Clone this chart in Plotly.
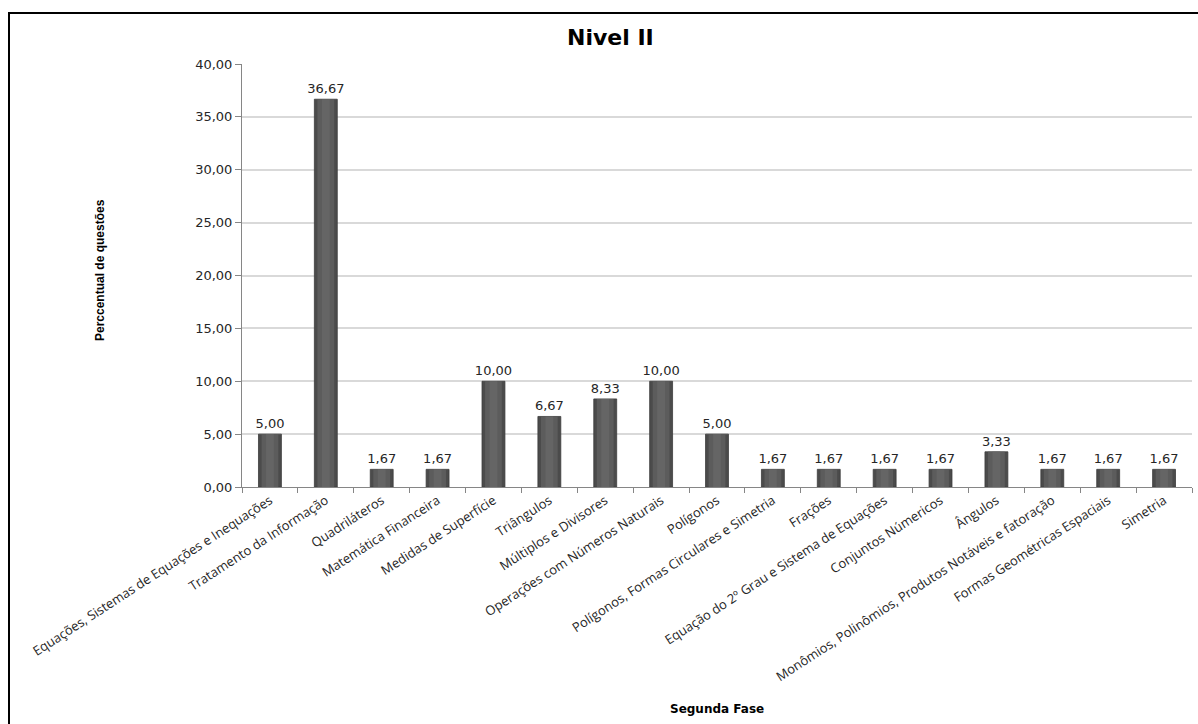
import plotly.graph_objects as go

categorias = [
    "Equações, Sistemas de Equações e Inequações",
    "Tratamento da Informação",
    "Quadriláteros",
    "Matemática Financeira",
    "Medidas de Superfície",
    "Triângulos",
    "Múltiplos e Divisores",
    "Operações com Números Naturais",
    "Polígonos",
    "Polígonos, Formas Circulares e Simetria",
    "Frações",
    "Equação do 2º Grau e Sistema de Equações",
    "Conjuntos Númericos",
    "Ângulos",
    "Monômios, Polinômios, Produtos Notáveis e fatoração",
    "Formas Geométricas Espaciais",
    "Simetria",
]
percentual = [5.00, 36.67, 1.67, 1.67, 10.00, 6.67, 8.33, 10.00, 5.00,
              1.67, 1.67, 1.67, 1.67, 3.33, 1.67, 1.67, 1.67]
y_ticks = [0, 5, 10, 15, 20, 25, 30, 35, 40]

W, H = 1198, 724
L, R, T, B = 242, 1192, 64, 487


def px(x):
    return (x - L) / (R - L)


def py(y):
    return (B - y) / (B - T)


fig = go.Figure()

# Body of each bar, with lighter inner bands for a rounded look
fig.add_trace(go.Bar(
    x=categorias, y=percentual, width=0.41,
    marker=dict(color="#4b4b4b", line=dict(color="#3c3c3c", width=0.8)),
    text=percentual, texttemplate="%{y:.2f}", textposition="outside",
    constraintext="none",
    textfont=dict(family="DejaVu Sans", size=13, color="#262626"),
    cliponaxis=False, hoverinfo="skip",
))
fig.add_trace(go.Bar(
    x=categorias, y=percentual, width=0.30,
    marker=dict(color="#5c5c5c", line=dict(width=0)),
    hoverinfo="skip",
))
fig.add_trace(go.Bar(
    x=categorias, y=percentual, width=0.14,
    marker=dict(color="#656565", line=dict(width=0)),
    hoverinfo="skip",
))

fig.update_layout(
    width=W, height=H,
    margin=dict(l=L, r=W - R, t=T, b=H - B),
    paper_bgcolor="white", plot_bgcolor="white",
    barmode="overlay", showlegend=False,
    separators=",.",
    font=dict(family="Open Sans", color="#262626"),
)

fig.update_yaxes(
    range=[0, 40], tickvals=y_ticks, tickformat=".2f",
    showgrid=True, gridcolor="#d9d9d9", gridwidth=1.5,
    showline=True, linecolor="#868686", linewidth=1,
    ticks="outside", ticklen=6, tickcolor="#868686",
    tickfont=dict(family="DejaVu Sans", size=13, color="#262626"),
    zeroline=False,
)
fig.update_xaxes(
    type="category", tickangle=-33,
    showline=True, linecolor="#868686", linewidth=1,
    ticks="outside", ticklen=5, tickcolor="#868686", tickson="boundaries",
    tickfont=dict(family="Open Sans", size=13, color="#262626"),
    showgrid=False,
)

fig.add_annotation(
    text="<b>Nivel II</b>", xref="paper", yref="paper",
    x=px(610), y=py(37), xanchor="center", yanchor="middle", showarrow=False,
    font=dict(family="DejaVu Sans", size=22, color="#000000"),
)
fig.add_annotation(
    text="<b>Perccentual de questões</b>", xref="paper", yref="paper",
    x=px(100), y=py(270), xanchor="center", yanchor="middle",
    showarrow=False, textangle=-90,
    font=dict(family="Liberation Sans Narrow, Arial Narrow, Liberation Sans", size=12, color="#000000"),
)
fig.add_annotation(
    text="<b>Segunda Fase</b>", xref="paper", yref="paper",
    x=px(717), y=py(709), xanchor="center", yanchor="middle", showarrow=False,
    font=dict(family="DejaVu Sans", size=12, color="#000000"),
)

# Chart frame
fig.add_shape(
    type="rect", xref="paper", yref="paper",
    x0=px(9), x1=px(1230), y0=py(750), y1=py(13),
    line=dict(color="#000000", width=2), fillcolor="rgba(0,0,0,0)",
    layer="above",
)

fig.write_html("out.html")
